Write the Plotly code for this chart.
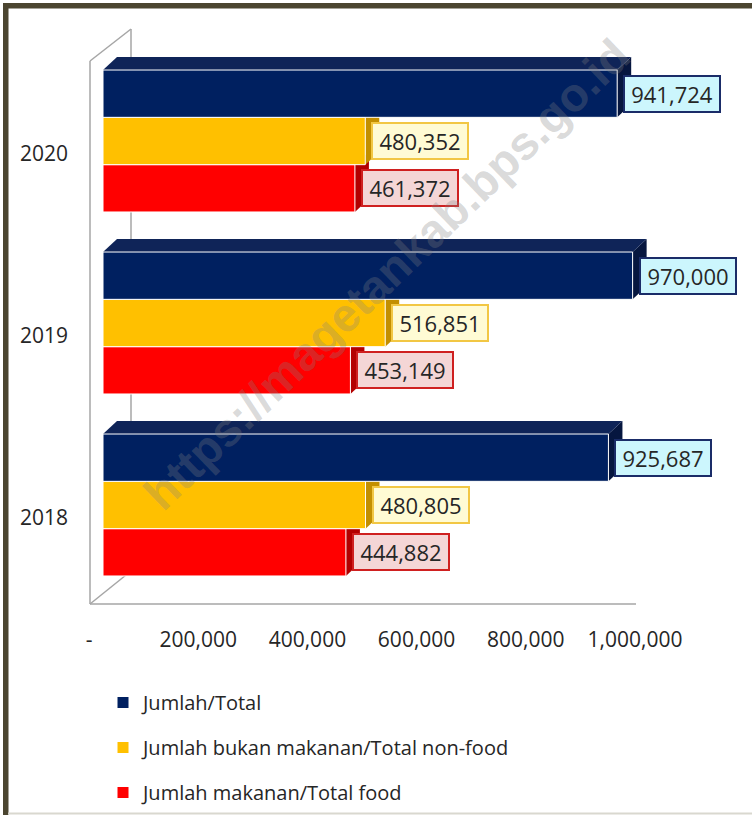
import plotly.graph_objects as go

# ---- data ----
years = ["2018", "2019", "2020"]
total = [925687, 970000, 941724]
non_food = [480805, 516851, 480352]
food = [444882, 453149, 461372]
x_tickvals = [0, 200000, 400000, 600000, 800000, 1000000]
x_ticktext = ["-", "200,000", "400,000", "600,000", "800,000", "1,000,000"]
names = ["Jumlah/Total", "Jumlah bukan makanan/Total non-food", "Jumlah makanan/Total food"]

W, H = 752, 815
FONT = "Open Sans"
TXT = "#262626"

def px(x):
    return x / W

def py(y):
    return 1 - y / H

# pixel scale of bar axis
K = 546 / 1e6          # px per unit
X0PIX = 103            # pixel of value 0
XL, XR = 80, 745       # x domain pixels
YT, YB = 50, 596       # y domain pixels
rng_x = [(XL - X0PIX) / K, (XR - X0PIX) / K]
unit_y = (YB - YT) / 3.0

bargap = 0.22
bw = (1 - bargap) / 3
ddx = 14 / K
ddy = 13 / unit_y

ypos = list(range(len(years)))

series = [
    # name, values, front, side, top, box fill, box border, offset index, legend rank
    (names[2], food, "#ff0000", "#b30000", "#c00000", "#f4d6d6", "#cf2020", -1, 3),
    (names[1], non_food, "#ffc000", "#c38f00", "#d9a300", "#fffbd4", "#f2c744", 0, 2),
    (names[0], total, "#002060", "#06163f", "#0f2458", "#ccf6fd", "#1a2c68", 1, 1),
]

fig = go.Figure()
shapes = []
annotations = []

for name, vals, front, side, top, bfill, bborder, k, rank in series:
    fig.add_trace(go.Bar(
        y=ypos, x=vals, orientation="h", name=name,
        marker=dict(color=front, line=dict(color="white", width=1)),
        legendgroup=name, legendrank=rank, hoverinfo="skip",
    ))
    for i, v in zip(ypos, vals):
        yc = i + k * bw
        yt = yc + bw / 2
        yb = yc - bw / 2
        # side face
        shapes.append(dict(
            type="path", xref="x", yref="y", layer="below",
            path=f"M {v},{yt} L {v + ddx},{yt + ddy} L {v + ddx},{yb + ddy} L {v},{yb} Z",
            fillcolor=side, line=dict(width=0),
        ))
        if k == 1:
            shapes.append(dict(
                type="path", xref="x", yref="y", layer="below",
                path=f"M 0,{yt} L {v},{yt} L {v + ddx},{yt + ddy} L {ddx},{yt + ddy} Z",
                fillcolor=top, line=dict(width=0),
            ))
        annotations.append(dict(
            x=v, y=yc, xref="x", yref="y", xanchor="left", yanchor="middle",
            xshift=6, showarrow=False, text=f"{v:,}",
            font=dict(family=FONT, size=22, color=TXT),
            bgcolor=bfill, bordercolor=bborder, borderwidth=2, borderpad=3,
            width=88, height=28,
        ))

# 3D walls (decoration)
wall = dict(color="#a6a6a6", width=1.5)
for (x0, y0, x1, y1) in [(90, 61, 90, 604), (90, 61, 131, 29), (131, 29, 131, 571),
                         (90, 604, 636, 604), (90, 604, 131, 571)]:
    shapes.append(dict(type="line", xref="paper", yref="paper", layer="below",
                       x0=px(x0), y0=py(y0), x1=px(x1), y1=py(y1), line=wall))

# frame
frame = "#4b4530"
shapes.append(dict(type="rect", xref="paper", yref="paper", layer="above",
                   x0=px(3), x1=px(8.5), y0=py(815), y1=py(3), fillcolor=frame, line=dict(width=0)))
shapes.append(dict(type="rect", xref="paper", yref="paper", layer="above",
                   x0=px(3), x1=px(752), y0=py(8.5), y1=py(3), fillcolor=frame, line=dict(width=0)))
shapes.append(dict(type="line", xref="paper", yref="paper", layer="above",
                   x0=px(8), x1=px(752), y0=py(813.5), y1=py(813.5), line=dict(color="#d9d8cf", width=2)))

# watermark
annotations.append(dict(
    x=px(386), y=py(274), xref="paper", yref="paper", showarrow=False,
    text="<b>https://magetankab.bps.go.id</b>", textangle=-44,
    font=dict(family="Liberation Sans", size=47, color="rgba(130,130,130,0.30)"),
))

fig.update_layout(
    width=W, height=H,
    margin=dict(l=0, r=0, t=0, b=0),
    paper_bgcolor="white", plot_bgcolor="rgba(0,0,0,0)",
    barmode="group", bargap=bargap, bargroupgap=0,
    shapes=shapes, annotations=annotations,
    font=dict(family=FONT, color=TXT),
    xaxis=dict(domain=[px(XL), px(XR)], range=rng_x, tickvals=x_tickvals, ticktext=x_ticktext,
               showgrid=False, zeroline=False, showline=False, ticks="",
               tickfont=dict(family=FONT, size=21, color=TXT),
               ticklabelshift=-14, ticklabelstandoff=29),
    yaxis=dict(domain=[py(YB), py(YT)], range=[-0.5, 2.5], tickvals=ypos, ticktext=years,
               showgrid=False, zeroline=False, showline=False, ticks="",
               tickfont=dict(family=FONT, size=21, color=TXT),
               ticklabelshift=13, ticklabelstandoff=11),
    legend=dict(x=px(103), y=py(683), xanchor="left", yanchor="top",
                traceorder="grouped", tracegroupgap=16,
                font=dict(family=FONT, size=20, color=TXT), bgcolor="rgba(0,0,0,0)"),
    showlegend=True,
)

fig.write_html("out.html", config={"displayModeBar": False},
               post_script="document.body.style.margin='0';")
